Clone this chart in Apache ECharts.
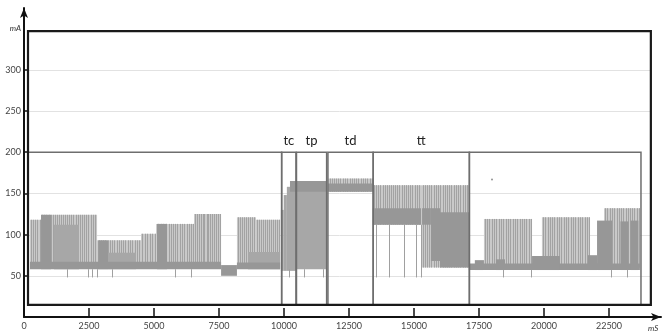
<!DOCTYPE html>
<html>
<head>
<meta charset="utf-8">
<script src="https://cdn.jsdelivr.net/npm/echarts@6/dist/echarts.min.js"></script>
<style>
  html, body { margin: 0; padding: 0; background: #fff; }
  #chart { width: 662px; height: 332px; }
</style>
</head>
<body>
<div id="chart"></div>
<script>
// axis ticks
const xTicks = [0, 2500, 5000, 7500, 10000, 12500, 15000, 17500, 20000, 22500];
const yTicks = [50, 100, 150, 200, 250, 300];
const yGrid = [50, 100, 150, 250, 300];

// phase boxes (ms), top in mA
const phaseNames = ['', 'tc', 'tp', 'td', 'tt', ''];
const phaseStart = [154, 9910, 10480, 11690, 13430, 17130];
const phaseEnd = [9910, 10460, 11640, 13430, 17130, 23730];
const phaseTop = 200;

// outer frame: [ms, ms] x [mA, mA]
const frameX = [154, 24110];
const frameY = [14.6, 347];

// spike regions: [start ms, end ms, low mA, peak mA]
const envelopes = [
  [230, 655, 60, 118],
  [655, 2810, 60, 124],
  [2810, 4500, 60, 93],
  [4500, 5080, 60, 101],
  [5080, 6540, 60, 113],
  [6540, 7580, 60, 125],
  [8190, 8920, 60, 121],
  [8920, 9850, 60, 118],
  [11700, 13420, 152, 168],
  [13420, 15270, 112, 160],
  [15270, 17110, 60, 160],
  [17690, 19540, 60, 119],
  [19920, 21770, 60, 121],
  [22310, 23690, 60, 132]
];

// spike times (ms) inside each region above
const spikeTimes = [
  [250, 330, 420, 510, 600],
  [700, 780, 860, 950, 1040, 1110, 1190, 1260, 1350, 1420, 1500, 1580, 1660, 1730, 1820, 1900, 1990, 2060, 2150, 2230, 2310, 2400, 2470, 2560, 2650, 2740],
  [2880, 2960, 3050, 3130, 3220, 3300, 3390, 3470, 3560, 3650, 3730, 3820, 3900, 3990, 4080, 4160, 4250, 4340, 4430],
  [4540, 4640, 4740, 4830, 4920, 5020],
  [5150, 5250, 5350, 5460, 5560, 5640, 5730, 5820, 5900, 5990, 6080, 6170, 6260, 6350, 6440, 6510],
  [6580, 6650, 6720, 6800, 6870, 6940, 7020, 7090, 7170, 7240, 7320, 7390, 7470, 7540],
  [8230, 8300, 8380, 8460, 8540, 8620, 8690, 8770, 8850],
  [8960, 9040, 9120, 9190, 9270, 9350, 9430, 9500, 9580, 9660, 9740, 9810],
  [11750, 11830, 11920, 12000, 12090, 12170, 12260, 12350, 12430, 12520, 12600, 12690, 12780, 12860, 12950, 13030, 13120, 13200, 13290, 13370],
  [13460, 13540, 13620, 13700, 13790, 13870, 13950, 14030, 14110, 14200, 14280, 14360, 14440, 14530, 14610, 14690, 14770, 14860, 14940, 15020, 15100, 15190],
  [15330, 15420, 15500, 15590, 15670, 15760, 15840, 15930, 16010, 16100, 16190, 16270, 16360, 16440, 16530, 16610, 16700, 16780, 16870, 16950, 17040],
  [17730, 17820, 17900, 18000, 18080, 18170, 18260, 18350, 18440, 18520, 18620, 18700, 18790, 18880, 18960, 19060, 19140, 19230, 19320, 19420, 19500],
  [19960, 20050, 20140, 20230, 20310, 20400, 20500, 20580, 20670, 20760, 20850, 20940, 21030, 21110, 21200, 21290, 21380, 21470, 21560, 21650, 21730],
  [22350, 22440, 22530, 22610, 22700, 22790, 22880, 22960, 23050, 23140, 23230, 23310, 23400, 23480, 23570, 23650]
];

// dense fills: [start ms, end ms, low mA, high mA]
const midBlocks = [
  [1150, 2115, 58, 112],
  [3230, 4310, 58, 78],
  [8615, 9850, 58, 79],
  [9880, 9990, 56, 130],
  [9990, 10110, 56, 148],
  [10110, 10230, 56, 158],
  [10230, 10460, 56, 164],
  [10460, 11650, 58, 165]
];
const darkBlocks = [
  [230, 7580, 58, 67],
  [8190, 9850, 58, 66],
  [17110, 23690, 57, 65],
  [655, 1040, 58, 124],
  [2850, 3230, 58, 93],
  [5115, 5500, 58, 113],
  [7580, 8190, 50, 63],
  [10230, 11650, 152, 165],
  [11700, 13420, 152, 162],
  [13420, 15270, 112, 132],
  [15310, 15650, 112, 132],
  [15650, 16000, 68, 132],
  [16000, 17110, 60, 127],
  [17340, 17690, 57, 69],
  [18150, 18500, 57, 70],
  [19540, 20610, 57, 74],
  [21690, 22040, 57, 75],
  [22040, 22620, 57, 117],
  [22940, 23250, 57, 116],
  [23330, 23630, 57, 117]
];

// short downward glitches: [ms, from mA], all reach dropLow
const drops = [
  [1654, 58], [2462, 58], [2615, 58], [2808, 58], [3385, 58], [5808, 58], [6423, 58],
  [10192, 58], [10769, 58], [11500, 58],
  [13538, 112], [14038, 112], [14615, 112], [15077, 112], [15269, 112],
  [18423, 57], [19500, 57], [22577, 57], [23192, 57]
];
const dropLow = 48;
const strayDot = [[18000, 167]];

const spikes = [];
envelopes.forEach((e, i) => {
  spikeTimes[i].forEach(t => spikes.push([t, e[2], e[3]]));
});
const phases = phaseNames.map((n, i) => [phaseStart[i], phaseEnd[i], frameY[0], phaseTop, n]);

const FONT = 'Lato, "Liberation Sans", sans-serif';

function rectSeries(data, color, z) {
  return {
    type: 'custom', data, z, silent: true,
    renderItem(params, api) {
      const p0 = api.coord([api.value(0), api.value(3)]);
      const p1 = api.coord([api.value(1), api.value(2)]);
      return {
        type: 'rect',
        shape: { x: p0[0], y: p0[1], width: Math.max(p1[0] - p0[0], 1), height: p1[1] - p0[1] },
        style: { fill: color }
      };
    }
  };
}

function vlineSeries(data, color, z) {
  return {
    type: 'custom', data, z, silent: true,
    renderItem(params, api) {
      const a = api.coord([api.value(0), api.value(1)]);
      const b = api.coord([api.value(0), api.value(2)]);
      const x = Math.round(a[0]) + 0.5;
      return {
        type: 'line',
        shape: { x1: x, y1: a[1], x2: x, y2: b[1] },
        style: { stroke: color, lineWidth: 1 }
      };
    }
  };
}

const chart = echarts.init(document.getElementById('chart'));
chart.setOption({
  animation: false,
  grid: { left: 24, right: 1, top: 8, bottom: 15 },
  xAxis: {
    type: 'value', min: 0, max: 24500, interval: 2500,
    name: 'mS', nameLocation: 'end', nameGap: -13,
    nameTextStyle: { fontFamily: FONT, fontSize: 8, fontStyle: 'italic', color: '#333', align: 'left', verticalAlign: 'top', padding: [7, 0, 0, 0] },
    axisLine: { lineStyle: { color: '#111', width: 2 }, symbol: ['none', 'arrow'], symbolSize: [6, 10] },
    axisTick: { inside: true, length: 9, lineStyle: { color: '#111', width: 1.5 }, customValues: xTicks },
    axisLabel: {
      customValues: xTicks, margin: 5, fontFamily: FONT, fontSize: 9, color: '#444',
      formatter: v => (xTicks.includes(v) ? String(v) : '')
    },
    splitLine: { show: false }
  },
  yAxis: {
    type: 'value', min: 0, max: 375, interval: 50,
    axisLine: { lineStyle: { color: '#111', width: 2 }, symbol: ['none', 'arrow'], symbolSize: [6, 10] },
    axisTick: { inside: true, length: 4, lineStyle: { color: '#111', width: 1.5 }, customValues: yTicks },
    axisLabel: {
      customValues: yTicks.concat([350]), margin: 3, fontFamily: FONT, fontSize: 9, color: '#444',
      formatter: v => (v === 350 ? '{u|mA}' : (yTicks.includes(v) ? String(v) : '')),
      rich: { u: { fontFamily: FONT, fontSize: 8, fontStyle: 'italic', color: '#333' } }
    },
    splitLine: { show: false }
  },
  series: [
    {
      type: 'custom', data: yGrid.map(v => [v]), z: 1, silent: true,
      renderItem(params, api) {
        const a = api.coord([frameX[0], api.value(0)]);
        const b = api.coord([frameX[1], api.value(0)]);
        const y = Math.round(a[1]) + 0.5;
        return { type: 'line', shape: { x1: a[0], y1: y, x2: b[0], y2: y }, style: { stroke: '#e2e2e2', lineWidth: 1 } };
      }
    },
    rectSeries(envelopes, '#c9c9c9', 2),
    vlineSeries(spikes, '#a2a2a2', 3),
    rectSeries(midBlocks, '#a7a7a7', 4),
    rectSeries(darkBlocks, '#979797', 5),
    vlineSeries(drops.map(d => [d[0], dropLow, d[1]]), '#a0a0a0', 6),
    {
      type: 'scatter', data: strayDot, symbolSize: 2, z: 6, silent: true,
      itemStyle: { color: '#777' }
    },
    {
      type: 'custom', data: phases, z: 8, silent: true,
      renderItem(params, api) {
        const p0 = api.coord([api.value(0), api.value(3)]);
        const p1 = api.coord([api.value(1), api.value(2)]);
        const name = phaseNames[params.dataIndex];
        const children = [{
          type: 'rect',
          shape: { x: p0[0], y: p0[1], width: p1[0] - p0[0], height: p1[1] - p0[1] },
          style: { fill: 'none', stroke: '#6e6e6e', lineWidth: 1.5 }
        }];
        if (name) {
          children.push({
            type: 'text',
            style: {
              text: name, x: (p0[0] + p1[0]) / 2, y: p0[1] - 5,
              align: 'center', verticalAlign: 'bottom',
              font: '13px ' + FONT, fill: '#222'
            }
          });
        }
        return { type: 'group', children };
      }
    },
    {
      type: 'custom', data: [[frameX[0], frameX[1], frameY[0], frameY[1]]], z: 9, silent: true,
      renderItem(params, api) {
        const p0 = api.coord([api.value(0), api.value(3)]);
        const p1 = api.coord([api.value(1), api.value(2)]);
        return {
          type: 'rect',
          shape: { x: p0[0], y: p0[1], width: p1[0] - p0[0], height: p1[1] - p0[1] },
          style: { fill: 'none', stroke: '#1a1a1a', lineWidth: 2.2 }
        };
      }
    }
  ]
});
</script>
</body>
</html>
